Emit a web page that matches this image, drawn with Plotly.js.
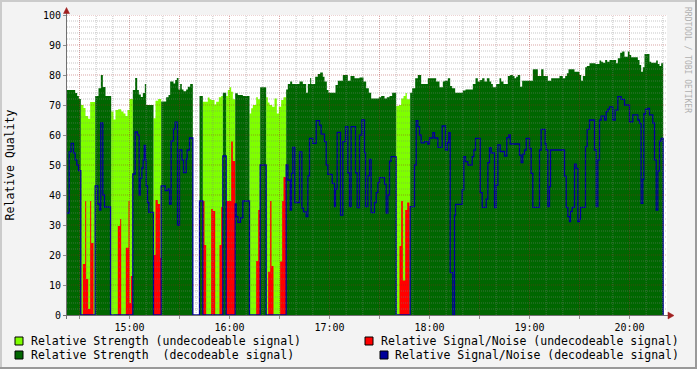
<!DOCTYPE html>
<html>
<head>
<meta charset="utf-8">
<script src="https://cdn.plot.ly/plotly-3.0.1.min.js"></script>
<style>
html,body{margin:0;padding:0;background:#F3F3F3;}
#chart{width:697px;height:369px;}
</style>
</head>
<body>
<div id="chart"></div>
<script>
// ---- DATA (times are minutes after 14:22) ----
const strengthMin = [0.0,5.4,6.6,7.6,8.8,10.4,11.6,13.2,14.4,17.4,19.4,20.8,22.0,23.6,27.0,28.4,29.6,31.2,33.0,34.4,35.6,36.8,38.0,40.0,41.4,42.6,43.6,44.8,46.0,47.2,48.0,52.4,53.6,55.2,57.0,60.0,61.4,62.4,64.4,65.4,66.4,67.4,68.4,69.4,70.4,
72.0,73.0,74.4,76.0,80.0,82.0,85.0,86.0,87.0,89.0,90.0,91.6,93.0,94.0,96.0,97.0,98.0,99.0,100.0,101.4,103.0,106.0,110.0,111.0,112.0,114.0,115.0,116.4,120.0,121.0,122.0,123.6,125.0,126.4,127.6,129.0,130.4,132.0,133.0,134.4,135.6,140.0,142.0,
144.0,145.0,146.4,147.0,149.4,151.0,152.4,154.0,155.0,156.4,157.4,161.6,163.0,166.0,169.0,170.6,173.0,176.0,178.4,180.0,181.6,183.0,187.6,189.0,191.0,192.4,194.0,195.6,198.0,199.6,201.0,202.4,203.6,204.4,206.4,207.6,209.4,211.0,213.0,
216.0,217.0,222.0,224.0,226.0,227.0,229.0,230.4,231.6,233.4,238.0,239.6,244.0,245.6,247.0,248.4,249.6,251.0,252.4,254.0,255.0,256.0,258.0,260.0,261.0,262.4,265.0,266.4,268.0,269.0,270.0,271.0,272.4,273.6,280.0,283.0,285.0,286.4,
288.0,289.0,291.0,296.0,298.0,299.4,300.4,301.4,305.0,308.0,309.0,310.0,311.4,312.4,314.0,317.6,320.0,321.0,322.0,323.4,324.6,326.0,330.0,331.0,332.4,333.6,335.0,337.0,338.0,339.0,343.0,344.0,345.0,346.0,347.0,350.0,351.0,354.0,355.0,356.0,357.0];
const strengthVal = [75,74,73,72,70,69,66.3,65.4,71,73,75.6,80,76,73,67.8,65.2,68.3,68.6,67.8,67.2,66.3,68.3,72,75,79,75,73.5,72.7,74,77,70,65.6,71.4,72,71.2,72.6,73.3,77.8,77.2,78.3,79,75.2,77,75.2,74.6,
75.2,76.1,77,0,73,71.1,72.5,71.9,71.7,70.2,71.1,72.6,73,74.1,73,75,75.9,74.4,71.9,73.9,73.3,73,67.2,68.9,70,72.6,71.9,75.9,72.6,70.8,70,69.4,72.2,67.2,69.4,71.7,72.6,75.2,77,77.8,77,77.8,77,
74.1,77,79,77,79.4,80.3,80.8,79.4,77.8,75,74.1,76.7,78.1,80,78.1,79.7,78.9,79.2,77.8,75.6,74.1,72.2,72.6,73,72.2,72.6,73,74.1,69.7,70,72.2,73,74,71.9,74.1,75.6,78.9,80,77,
77,78.9,77.8,75.9,77.8,78.1,78.9,76.3,75.6,74.1,74.8,75.2,77,78.9,77.8,78.3,78.9,77.8,78.9,77.8,77,75.9,77,78.9,77.8,77,79.7,80,79.7,78.9,79.4,80,76.1,78.1,81.9,79.7,81.9,79.7,
79.7,78.1,78.9,79.7,78.9,79.7,80.6,81.9,81.1,80,78.1,79.7,82.6,83,83.9,83.7,84.8,84.4,84.1,85,84.4,85,83.9,85.6,87.4,87.8,86.1,87.8,86.7,85.9,85,83.3,81.1,82.6,87,84.4,84.1,84.8,83.7,83,83.9];
const strengthDecodeable = [1,1,1,1,0,0,0,0,0,1,1,1,1,1,0,0,0,0,0,0,0,0,0,1,1,1,1,1,1,1,1,0,0,0,1,1,1,1,1,1,1,1,1,1,1,
1,1,1,1,1,0,0,0,0,0,0,0,0,1,0,0,0,0,0,1,1,1,0,0,0,0,0,1,0,0,0,0,0,0,0,0,0,1,1,1,1,1,1,
1,1,1,1,1,1,1,1,1,1,1,1,1,1,1,1,1,1,1,1,1,1,1,1,1,1,1,1,0,0,0,0,0,0,1,1,1,1,1,
1,1,1,1,1,1,1,1,1,1,1,1,1,1,1,1,1,1,1,1,1,1,1,1,1,1,1,1,1,1,1,1,1,1,1,1,1,1,
1,1,1,1,1,1,1,1,1,1,1,1,1,1,1,1,1,1,1,1,1,1,1,1,1,1,1,1,1,1,1,1,1,1,1,1,1,1,1,1,1];
const snrMin = [0.0,1.8,3.0,4.4,5.4,6.4,7.4,8.8,10.0,11.4,12.0,13.2,14.4,15.0,16.4,17.4,19.0,20.0,20.8,22.0,23.0,26.6,31.0,32.4,33.0,35.8,37.4,38.0,38.8,
40.0,41.4,42.8,43.8,44.4,45.4,46.2,46.8,47.6,48.0,48.8,49.6,52.4,53.6,55.0,56.4,57.0,59.4,61.0,62.0,63.0,64.4,65.4,66.8,68.0,69.4,70.4,
72.0,72.6,74.0,76.0,80.0,82.0,83.0,84.0,87.0,88.0,89.4,92.0,93.0,94.0,96.0,99.0,100.0,101.4,102.0,103.0,104.6,106.0,110.0,114.0,115.2,116.4,120.0,121.2,122.4,123.2,124.4,128.4,129.6,130.4,132.0,133.0,134.4,135.2,136.0,137.2,140.0,141.4,142.4,
144.0,145.0,146.0,148.0,150.0,152.0,153.0,155.0,156.0,157.0,159.6,161.0,161.6,162.6,164.6,166.0,167.6,169.0,170.0,171.0,173.6,174.6,176.0,177.4,179.0,179.6,181.0,182.0,183.0,185.0,186.0,187.0,188.0,191.0,192.0,193.0,194.0,195.0,198.0,200.0,201.0,202.0,203.4,204.6,206.0,206.4,209.0,210.0,211.0,212.0,213.0,215.0,
217.0,218.0,220.0,221.0,223.0,225.6,227.6,228.8,229.6,230.4,232.0,233.0,233.6,237.6,238.6,239.6,241.0,243.6,244.6,245.6,248.4,249.6,252.0,253.0,254.0,255.0,257.0,258.0,259.0,260.4,263.0,264.4,265.6,266.4,272.0,273.0,274.0,275.0,276.0,278.0,279.0,280.0,284.0,285.0,287.4,
288.0,289.0,290.0,290.6,299.0,300.0,301.0,302.0,302.6,303.6,305.0,306.0,307.0,308.0,308.6,311.6,312.6,314.0,317.0,318.0,319.0,320.0,321.0,323.0,324.0,325.0,326.0,328.0,329.4,331.0,333.0,335.0,338.0,340.0,343.0,344.0,345.0,346.0,346.6,347.6,349.0,350.0,352.0,353.0,354.0,355.0,356.0,357.0];
const snrVal = [34,54.4,57.2,54,51.7,50,48.1,0,17,38,12,2,38,24,0,43,37,35,64,40,36,0,29.7,32,0,22.4,38,4,13,
47,61,60,40,45.6,49,51.7,56.5,51.7,43,37.5,34.2,20,38.3,37,19,43,41.5,42,37,58,62,64.3,30,55,51.7,47.5,
52,55,59,0,38,38,23.3,0,35.3,34.7,0,23.3,36,53,38,57.8,51.3,37,32.8,30.9,32.4,38,0,18,35,50,0,14.4,38,16.3,0,17.8,38,46,50,45,35,47.2,55.9,37.5,54.4,35.6,34.4,
32.8,46.4,58.9,57.2,64.8,63.3,60.3,57.8,50,46.9,43.9,36.1,42,60.9,33.3,57.8,62.8,47.4,36.1,62.8,47.4,35.8,60,65,54.1,36.1,46.4,51.9,34.1,37.5,40.8,44.1,45.8,43.6,34,40,51.3,52.8,0,23,38,11.5,35,37.5,0,36.1,50,64.8,62.8,60,57.4,57.8,
57,59,60.8,59,55.9,63,55,57.5,60.8,14.1,0,33.3,36.9,41.7,52.8,51.1,50,52.8,55,58.9,40.8,35.9,38.6,50.8,55.8,54,35.8,43.3,56.7,54.5,53,59.1,60,57,53.3,50.8,53.6,55,58.9,55.5,47.2,35.9,55,61.9,57,
55,36.1,42.8,55,46.3,35.9,32.8,31.1,34.5,35.9,50.3,48.9,31.1,32,35.9,56.1,61.9,65,55,36.1,51.7,65,66.3,65,67.8,68.6,69.4,65,68.3,72.8,71.9,70,64.4,66.7,65,63.9,37.2,45.2,67,68.6,68.9,66.7,64,51.7,35,48,58,58.9];
const dataEndMin = 358.2;
const xTickLabels = ['15:00','16:00','17:00','18:00','19:00','20:00'];
const yTickValues = [0,10,20,30,40,50,60,70,80,90,100];
const seriesNames = ['Relative Strength (undecodeable signal)','Relative Strength\u00A0 (decodeable signal)',
                     'Relative Signal/Noise (undecodeable signal)','Relative Signal/Noise (decodeable signal)'];
const seriesColors = ['#7FFF00','#006600','#FF0000','#000099'];

// ---- helpers ----
const START_MS = Date.UTC(2024,0,15,14,22,0);
function toX(min){ return new Date(START_MS + Math.round(min*60000)).toISOString().slice(0,19).replace('T',' '); }
function valueAt(ts, vs, t){ let v = vs[0]; for(let i=0;i<ts.length;i++){ if(ts[i] <= t+1e-9) v = vs[i]; else break; } return v; }

const cuts = Array.from(new Set(strengthMin.concat(snrMin))).filter(t => t < dataEndMin).sort((a,b)=>a-b);
const X=[], light=[], dark=[], red=[], blue=[];
cuts.forEach(t => {
  const s = valueAt(strengthMin, strengthVal, t);
  const d = valueAt(strengthMin, strengthDecodeable, t);
  const n = valueAt(snrMin, snrVal, t);
  X.push(toX(t)); light.push(d?0:s); dark.push(d?s:0); red.push(d?0:n); blue.push(d?n:0);
});
X.push(toX(dataEndMin));
[light,dark,red,blue].forEach(a => a.push(a[a.length-1]));
const blueX = X.concat([toX(dataEndMin)]);
const blueY = blue.concat([0]);

function area(y, color, name){
  return {x:X, y:y, type:'scatter', mode:'lines', name:name, line:{shape:'hv', width:0, color:color},
          fill:'tozeroy', fillcolor:color, hoverinfo:'skip', showlegend:false};
}
const traces = [
  area(light, seriesColors[0], seriesNames[0]),
  area(dark, seriesColors[1], seriesNames[1]),
  area(red, seriesColors[2], seriesNames[2]),
  {x:blueX, y:blueY, type:'scatter', mode:'lines', name:seriesNames[3], line:{shape:'hv', width:1.3, color:seriesColors[3]}, hoverinfo:'skip', showlegend:false}
];

// ---- decoration geometry (paper coords from pixels) ----
const L=67, T=15, W=600, H=300;
const px = x => (x-L)/W;
const py = y => (T+H-y)/H;

const shapes = [];
// grid
const MINOR='rgba(128,128,128,0.45)', MAJOR='rgba(160,30,30,0.40)';
for(let m=8; m<=358; m+=10){
  const major = ((m-8)%30===0);
  shapes.push({type:'line', layer:'above', xref:'x', yref:'paper', x0:toX(m), x1:toX(m), y0:0, y1:1,
    line:{color: major?MAJOR:MINOR, width:1, dash:'1px,1px'}});
}
for(let v=2; v<=100; v+=2){
  const major = (v%10===0);
  shapes.push({type:'line', layer:'above', xref:'paper', yref:'y', x0:0, x1:1, y0:v, y1:v,
    line:{color: major?MAJOR:MINOR, width:1, dash:'1px,1px'}});
}
// axis lines and arrows
shapes.push({type:'line', layer:'above', xref:'paper', yref:'paper', x0:px(63), x1:px(670), y0:py(315.5), y1:py(315.5), line:{color:'#707070', width:1}});
shapes.push({type:'line', layer:'above', xref:'paper', yref:'paper', x0:px(66.5), x1:px(66.5), y0:py(319), y1:py(11), line:{color:'#707070', width:1}});
shapes.push({type:'path', layer:'above', xref:'paper', yref:'paper',
  path:`M ${px(668)} ${py(312)} L ${px(674)} ${py(315.5)} L ${px(668)} ${py(319)} Z`, fillcolor:'#A02020', line:{color:'#A02020', width:0.5}});
shapes.push({type:'path', layer:'above', xref:'paper', yref:'paper',
  path:`M ${px(63.5)} ${py(13.5)} L ${px(66.5)} ${py(7.5)} L ${px(69.5)} ${py(13.5)} Z`, fillcolor:'#A02020', line:{color:'#A02020', width:0.5}});
// outer 3D frame
shapes.push({type:'rect', layer:'above', xref:'paper', yref:'paper', x0:px(0), x1:px(697), y0:py(0), y1:py(2), fillcolor:'#CBCBCB', line:{width:0}});
shapes.push({type:'rect', layer:'above', xref:'paper', yref:'paper', x0:px(0), x1:px(2), y0:py(0), y1:py(369), fillcolor:'#CBCBCB', line:{width:0}});
shapes.push({type:'rect', layer:'above', xref:'paper', yref:'paper', x0:px(0), x1:px(697), y0:py(367), y1:py(369), fillcolor:'#999999', line:{width:0}});
shapes.push({type:'rect', layer:'above', xref:'paper', yref:'paper', x0:px(695), x1:px(697), y0:py(0), y1:py(369), fillcolor:'#999999', line:{width:0}});

// legend boxes + texts
const legendPos = [
  {bx:15, by:337, tx:30, ty:341},
  {bx:15, by:351, tx:30, ty:355},
  {bx:365, by:337, tx:380, ty:341},
  {bx:380, by:351, tx:394, ty:355}
];
const annotations = [];
legendPos.forEach((p,i) => {
  shapes.push({type:'rect', layer:'above', xref:'paper', yref:'paper', x0:px(p.bx), x1:px(p.bx+8), y0:py(p.by), y1:py(p.by+8),
    fillcolor:seriesColors[i], line:{color:'#000', width:1}});
  annotations.push({xref:'paper', yref:'paper', x:px(p.tx), y:py(p.ty), xanchor:'left', yanchor:'middle', showarrow:false,
    borderpad:0, text:seriesNames[i], font:{family:'DejaVu Sans Mono', size:11.5, color:'#000'}});
});
annotations.push({xref:'paper', yref:'paper', x:px(688), y:py(60), xanchor:'center', yanchor:'middle', showarrow:false,
  textangle:90, borderpad:0, text:'RRDTOOL / TOBI OETIKER', font:{family:'DejaVu Sans Mono', size:8, color:'#B0B0B0'}});

// x ticks: every 30 min, labels on the hour
const tickvals=[], ticktext=[];
xTickLabels.forEach((lab, i) => {
  const hh = parseInt(lab.slice(0,2),10);
  const mHalfBefore = (hh-14)*60 - 22 - 30;
  tickvals.push(toX(mHalfBefore)); ticktext.push('');
  tickvals.push(toX(mHalfBefore+30)); ticktext.push(lab);
});

const tickFont = {family:'DejaVu Sans Mono', size:10, color:'#000'};
const layout = {
  width:697, height:369, autosize:false,
  margin:{l:L, r:697-L-W, t:T, b:369-T-H, pad:0},
  paper_bgcolor:'#F3F3F3', plot_bgcolor:'#FFFFFF',
  showlegend:false,
  xaxis:{type:'date', range:[toX(0.5), toX(360.5)], tickvals:tickvals, ticktext:ticktext, tickangle:0,
    ticks:'outside', ticklen:3, tickcolor:'#909090', showgrid:false, zeroline:false, showline:false,
    tickfont:tickFont, fixedrange:true},
  yaxis:{range:[0,100], tickvals:yTickValues, ticks:'outside', ticklen:3, tickcolor:'#909090',
    showgrid:false, zeroline:false, showline:false, tickfont:tickFont, fixedrange:true,
    title:{text:'Relative Quality', font:{family:'DejaVu Sans Mono', size:11.5, color:'#000'}, standoff:25}},
  shapes:shapes,
  annotations:annotations
};
Plotly.newPlot('chart', traces, layout, {staticPlot:true, displayModeBar:false});
</script>
</body>
</html>
